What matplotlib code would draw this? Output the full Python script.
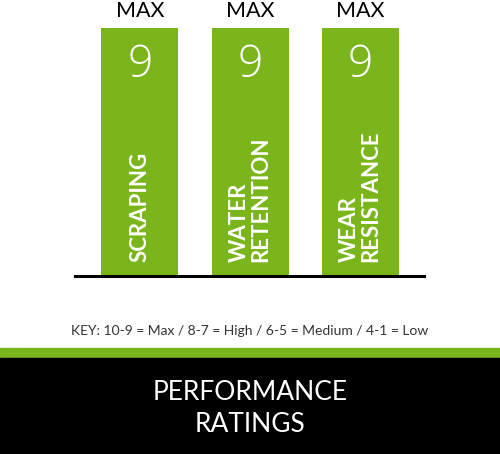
import matplotlib
matplotlib.use('Agg')
import matplotlib.pyplot as plt
from matplotlib.patches import Rectangle

categories = ['SCRAPING', 'WATER\nRETENTION', 'WEAR\nRESISTANCE']
ratings = [9, 9, 9]
rating_labels = ['MAX', 'MAX', 'MAX']
key_text = 'KEY: 10-9 = Max / 8-7 = High / 6-5 = Medium / 4-1 = Low'
title_lines = ['PERFORMANCE', 'RATINGS']

green = '#7ab51b'
W, H = 500, 454
plt.rcParams['font.family'] = ['Lato', 'DejaVu Sans']

fig = plt.figure(figsize=(W / 100, H / 100), dpi=100)
fig.patch.set_facecolor('white')

# bar area, in pixel terms: left 75, right 424, top of 9 at 28, baseline at 276
ax = fig.add_axes([75 / W, 1 - 276 / H, (424 - 75) / W, (276 - 28) / H])
x = list(range(len(categories)))
ax.bar(x, ratings, width=0.7, color=green)
ax.set_xlim(-0.59, 2.58)
ax.set_ylim(0, 9)
ax.axis('off')
ax.axhline(0, color='black', lw=2.2, clip_on=False)

for i, (v, lab, cat) in enumerate(zip(ratings, rating_labels, categories)):
  ax.annotate(lab, (i, v), xytext=(0, 8), textcoords='offset points',
              ha='center', va='baseline', fontsize=15.5, color='black')
  ax.annotate(str(v), (i, v), xytext=(0, -35), textcoords='offset points',
              ha='center', va='baseline', fontsize=32, color='white',
              fontweight='light', family=['Open Sans', 'DejaVu Sans'])
  ax.annotate(cat, (i, 0), xytext=(0, 10), textcoords='offset points',
              ha='left', va='center', rotation=90, rotation_mode='anchor',
              fontsize=16, color='white', fontweight='bold', linespacing=1.05)

fig.text(0.5, 1 - 335 / H, key_text, ha='center', va='baseline', fontsize=10, color='#333333')

# bottom bands
fig.patches.append(Rectangle((0, 1 - 358 / H), 1, 10 / H, transform=fig.transFigure,
                             color=green, zorder=0))
fig.patches.append(Rectangle((0, 0), 1, 1 - 358 / H, transform=fig.transFigure,
                             color='black', zorder=0))
for line, base in zip(title_lines, [400, 432]):
  fig.text(0.5, 1 - base / H, line, ha='center', va='baseline', fontsize=19, color='white')

fig.savefig('out.png', dpi=100)
